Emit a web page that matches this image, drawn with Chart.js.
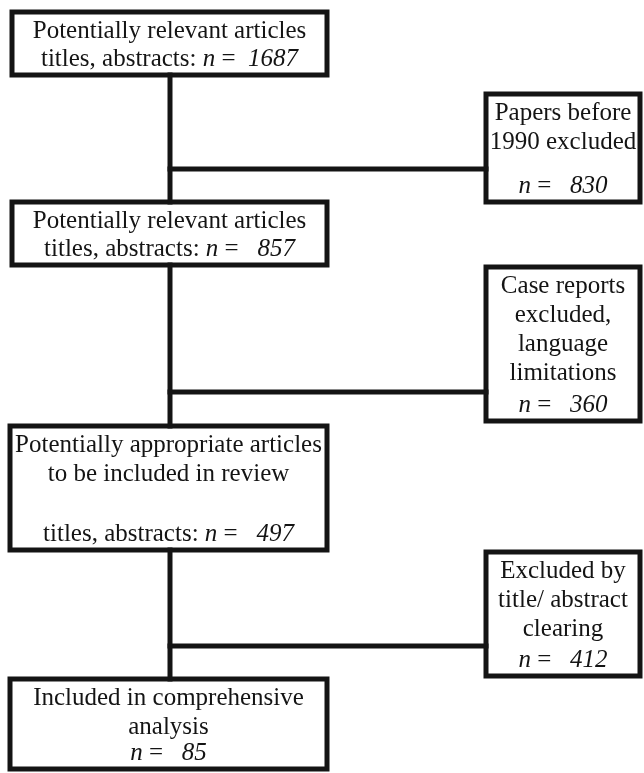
<!DOCTYPE html>
<html>
<head>
<meta charset="utf-8">
<script src="https://cdn.jsdelivr.net/npm/chart.js@4/dist/chart.umd.min.js"></script>
<style>
  html, body { margin: 0; padding: 0; background: #fff; }
  #wrap { width: 644px; height: 773px; }
</style>
</head>
<body>
<div id="wrap"><canvas id="flow" width="644" height="773"></canvas></div>
<script>
// flow data: main stages and the exclusions between them
const stageText = [
  ["Potentially relevant articles", "titles, abstracts:"],
  ["Potentially relevant articles", "titles, abstracts:"],
  ["Potentially appropriate articles", "to be included in review", "titles, abstracts:"],
  ["Included in comprehensive", "analysis", ""]
];
const stageCounts = [1687, 857, 497, 85];
const excludedText = [
  ["Papers before", "1990 excluded", ""],
  ["Case reports", "excluded,", "language", "limitations", ""],
  ["Excluded by", "title/ abstract", "clearing", ""]
];
const excludedCounts = [830, 360, 412];

// layout (page units, x right / y down) : [x0, x1, y0, y1]
const stageBoxes = [[12, 327, 12, 75], [12, 327, 202, 265], [10, 327, 426, 550], [10, 327, 679, 769]];
const excludedBoxes = [[486, 640, 94, 202], [486, 640, 267, 421], [486, 640, 552, 676]];
const stemX = 170;
const branchY = [169, 392, 646];

const INK = "#141414";
const LW = 5;

function rect(b) {
  return [{x: b[0], y: b[2]}, {x: b[1], y: b[2]}, {x: b[1], y: b[3]}, {x: b[0], y: b[3]}, {x: b[0], y: b[2]}];
}
function seg(pts) {
  return {data: pts, showLine: true, borderColor: INK, borderWidth: LW, pointRadius: 0,
          borderCapStyle: "square", borderJoinStyle: "miter", fill: false, tension: 0};
}

const datasets = [];
stageBoxes.forEach(b => datasets.push(seg(rect(b))));
excludedBoxes.forEach(b => datasets.push(seg(rect(b))));
for (let i = 0; i < stageBoxes.length - 1; i++) {
  datasets.push(seg([{x: stemX, y: stageBoxes[i][3]}, {x: stemX, y: stageBoxes[i + 1][2]}]));
  datasets.push(seg([{x: stemX, y: branchY[i]}, {x: excludedBoxes[i][0], y: branchY[i]}]));
}

const FONT = "25px 'Liberation Serif', 'Times New Roman', serif";
const FONT_IT = "italic 25px 'Liberation Serif', 'Times New Roman', serif";

function drawRich(ctx, parts, cx, y) {
  let w = 0;
  parts.forEach(p => { ctx.font = p.it ? FONT_IT : FONT; w += ctx.measureText(p.t).width; });
  let x = cx - w / 2;
  parts.forEach(p => {
    ctx.font = p.it ? FONT_IT : FONT;
    ctx.fillText(p.t, x, y);
    x += ctx.measureText(p.t).width;
  });
}

const boxLabels = {
  id: "boxLabels",
  afterDatasetsDraw(chart) {
    const {ctx, scales: {x, y}} = chart;
    ctx.save();
    ctx.fillStyle = INK;
    ctx.textAlign = "left";
    ctx.textBaseline = "middle";
    const put = (b, lines, count) => {
      const cx = (x.getPixelForValue(b[0]) + x.getPixelForValue(b[1])) / 2;
      lines.slice(0, -1).forEach((t, i) => {
        drawRich(ctx, [{t: t}], cx, y.getPixelForValue(b[2] + 19 + i * 29));
      });
      const last = lines[lines.length - 1];
      const gap = String(count).length < 4 ? "   " : "  ";
      const parts = [];
      if (last) parts.push({t: last + " "});
      parts.push({t: "n", it: true}, {t: " =" + gap}, {t: String(count), it: true});
      drawRich(ctx, parts, cx, y.getPixelForValue(b[3] - 16));
    };
    stageBoxes.forEach((b, i) => put(b, stageText[i], stageCounts[i]));
    excludedBoxes.forEach((b, i) => put(b, excludedText[i], excludedCounts[i]));
    ctx.restore();
  }
};

new Chart(document.getElementById("flow"), {
  type: "scatter",
  data: {datasets: datasets},
  options: {
    responsive: false,
    animation: false,
    events: [],
    layout: {padding: 0},
    plugins: {legend: {display: false}, tooltip: {enabled: false}},
    scales: {
      x: {type: "linear", min: 0, max: 644, display: false},
      y: {type: "linear", min: 0, max: 773, reverse: true, display: false}
    }
  },
  plugins: [boxLabels]
});
</script>
</body>
</html>
